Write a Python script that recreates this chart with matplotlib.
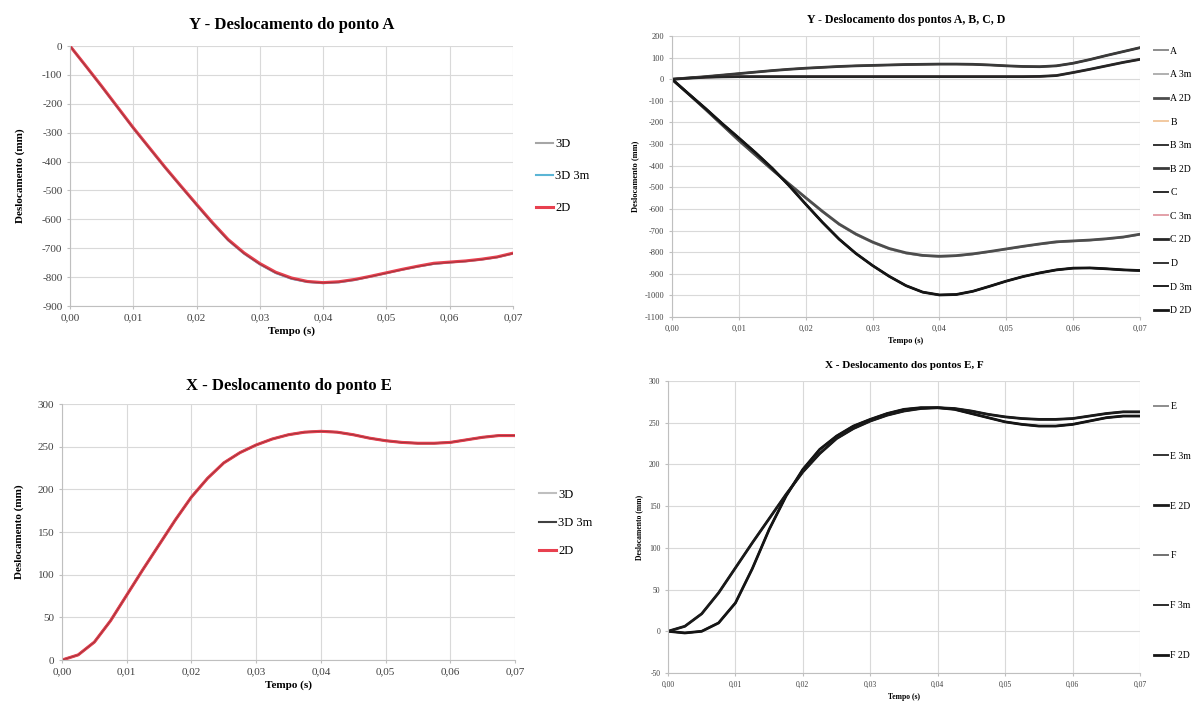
import matplotlib
matplotlib.use("Agg")
import matplotlib.pyplot as plt
from matplotlib.ticker import FuncFormatter

plt.rcParams["font.family"] = ["Liberation Serif", "DejaVu Serif"]
plt.rcParams["axes.unicode_minus"] = False

# tempo (s)
tempo = [0.0, 0.0025, 0.005, 0.0075, 0.01, 0.0125, 0.015, 0.0175, 0.02, 0.0225,
         0.025, 0.0275, 0.03, 0.0325, 0.035, 0.0375, 0.04, 0.0425, 0.045, 0.0475,
         0.05, 0.0525, 0.055, 0.0575, 0.06, 0.0625, 0.065, 0.0675, 0.07]

# Y - ponto A (mm)
ya_3d = [0, -70, -140, -212, -284, -352, -420, -485, -550, -613,
         -672, -718, -755, -785, -805, -816, -820, -817, -809, -798,
         -786, -774, -763, -754, -749, -745, -739, -731, -718]
ya_3d_3m = [0, -70, -141, -213, -285, -353, -421, -486, -550, -614,
            -673, -719, -756, -786, -806, -817, -821, -818, -810, -798,
            -786, -774, -763, -754, -749, -745, -739, -731, -718]
ya_2d = [0, -69, -139, -211, -283, -351, -419, -484, -548, -611,
         -670, -716, -753, -783, -803, -815, -819, -816, -808, -797,
         -785, -773, -762, -752, -748, -744, -738, -730, -717]

# Y - pontos B, C, D (mm)
yb = [0, 6, 12, 19, 26, 33, 40, 46, 51, 55,
      59, 62, 64, 66, 68, 69, 70, 70, 69, 66,
      62, 59, 58, 62, 74, 91, 110, 128, 146]
yc = [0, 5, 9, 11, 12, 12, 12, 12, 12, 12,
      12, 12, 12, 12, 12, 12, 12, 12, 12, 12,
      12, 12, 13, 17, 31, 46, 62, 78, 92]
yd = [0, -68, -135, -205, -272, -340, -412, -492, -578, -662,
      -740, -806, -862, -912, -955, -985, -998, -996, -981, -958,
      -934, -913, -896, -882, -874, -873, -877, -882, -885]

# X - pontos E, F (mm)
xe = [0, 6, 21, 46, 76, 106, 135, 164, 191, 213,
      231, 243, 252, 259, 264, 267, 268, 267, 264, 260,
      257, 255, 254, 254, 255, 258, 261, 263, 263]
xf = [0, -2, 0, 10, 34, 75, 122, 162, 194, 218,
      234, 246, 254, 261, 266, 268, 268, 266, 261, 256,
      251, 248, 246, 246, 248, 252, 256, 258, 258]

x_ticks = [0.0, 0.01, 0.02, 0.03, 0.04, 0.05, 0.06, 0.07]

W, H = 1198, 706
fig = plt.figure(figsize=(W / 100, H / 100), dpi=100)


def box(left, top, right, bottom):
    return [left / W, 1 - bottom / H, (right - left) / W, (bottom - top) / H]


def style_axis(ax, ylim, ystep, tick_fs, label_fs):
    ax.set_xlim(0, 0.07)
    ax.set_ylim(*ylim)
    ax.set_xticks(x_ticks)
    ax.set_yticks(range(ylim[0], ylim[1] + 1, ystep))
    ax.xaxis.set_major_formatter(FuncFormatter(lambda v, p: f"{v:.2f}".replace(".", ",")))
    ax.grid(True, color="#d9d9d9", linewidth=0.8)
    ax.set_axisbelow(True)
    for s in ["top", "right"]:
        ax.spines[s].set_visible(False)
    for s in ["left", "bottom"]:
        ax.spines[s].set_color("#bfbfbf")
    ax.tick_params(length=2, color="#bfbfbf", labelsize=tick_fs, labelcolor="#404040")
    ax.set_xlabel("Tempo (s)", fontsize=label_fs, fontweight="bold", labelpad=3)
    ax.set_ylabel("Deslocamento (mm)", fontsize=label_fs, fontweight="bold", labelpad=4)


# top left
ax1 = fig.add_axes(box(70, 46, 513, 306))
ax1.plot(tempo, ya_3d, color="#a6a6a6", lw=1.5, label="3D")
ax1.plot(tempo, ya_3d_3m, color="#5bb5d5", lw=1.5, label="3D 3m")
ax1.plot(tempo, ya_2d, color="#e8404f", lw=2.2, label="2D")
ax1.plot(tempo, ya_3d, color="#5a2a2a", lw=0.6, alpha=0.6)
style_axis(ax1, (-900, 0), 100, 8, 8)
ax1.yaxis.labelpad = 12
ax1.set_title("Y - Deslocamento do ponto A", fontsize=12, fontweight="bold", pad=12)
ax1.legend(loc="center left", bbox_to_anchor=(525 / W, 1 - 176 / H), bbox_transform=fig.transFigure,
           frameon=False, fontsize=9, handlelength=1.3, handletextpad=0.2, labelspacing=1.6)

# bottom left
ax2 = fig.add_axes(box(62, 404, 515, 660))
ax2.plot(tempo, xe, color="#bfbfbf", lw=1.5, label="3D")
ax2.plot(tempo, xe, color="#404040", lw=1.5, label="3D 3m")
ax2.plot(tempo, xe, color="#e8404f", lw=2.2, label="2D")
ax2.plot(tempo, xe, color="#5a2a2a", lw=0.6, alpha=0.6)
style_axis(ax2, (0, 300), 50, 8, 8)
ax2.yaxis.labelpad = 10
ax2.set_title("X - Deslocamento do ponto E", fontsize=12, fontweight="bold", pad=10)
ax2.legend(loc="center left", bbox_to_anchor=(528 / W, 1 - 523 / H), bbox_transform=fig.transFigure,
           frameon=False, fontsize=9, handlelength=1.3, handletextpad=0.2, labelspacing=1.3)

# top right
ax3 = fig.add_axes(box(672, 36, 1140, 317))
series3 = [
    (ya_3d, "A", "#8c8c8c", 1.4), (ya_3d_3m, "A 3m", "#b0b0b0", 1.4), (ya_2d, "A 2D", "#4d4d4d", 2.0),
    (yb, "B", "#f2c9a0", 1.4), (yb, "B 3m", "#333333", 1.4), (yb, "B 2D", "#3a3a3a", 2.0),
    (yc, "C", "#2b2b2b", 1.4), (yc, "C 3m", "#e3a0a8", 1.4), (yc, "C 2D", "#262626", 2.0),
    (yd, "D", "#333333", 1.4), (yd, "D 3m", "#1f1f1f", 1.4), (yd, "D 2D", "#151515", 2.0),
]
for vals, lab, col, lw in series3:
    ax3.plot(tempo, vals, color=col, lw=lw, label=lab)
style_axis(ax3, (-1100, 200), 100, 6, 6)
ax3.set_title("Y - Deslocamento dos pontos A, B, C, D", fontsize=8.5, fontweight="bold", pad=9)
ax3.legend(loc="center left", bbox_to_anchor=(1145 / W, 1 - 181 / H), bbox_transform=fig.transFigure,
           frameon=False, fontsize=7, handlelength=1.5, handletextpad=0.2, labelspacing=1.5)

# bottom right
ax4 = fig.add_axes(box(668, 381, 1140, 673))
series4 = [
    (xe, "E", "#8c8c8c", 1.4), (xe, "E 3m", "#333333", 1.4), (xe, "E 2D", "#1a1a1a", 2.0),
    (xf, "F", "#707070", 1.4), (xf, "F 3m", "#2b2b2b", 1.4), (xf, "F 2D", "#151515", 2.0),
]
for vals, lab, col, lw in series4:
    ax4.plot(tempo, vals, color=col, lw=lw, label=lab)
style_axis(ax4, (-50, 300), 50, 5.5, 5.5)
ax4.set_title("X - Deslocamento dos pontos E, F", fontsize=8, fontweight="bold", pad=9)
ax4.legend(loc="center left", bbox_to_anchor=(1145 / W, 1 - 531 / H), bbox_transform=fig.transFigure,
           frameon=False, fontsize=7, handlelength=1.5, handletextpad=0.2, labelspacing=4.2)

fig.savefig("out.png", dpi=100)
